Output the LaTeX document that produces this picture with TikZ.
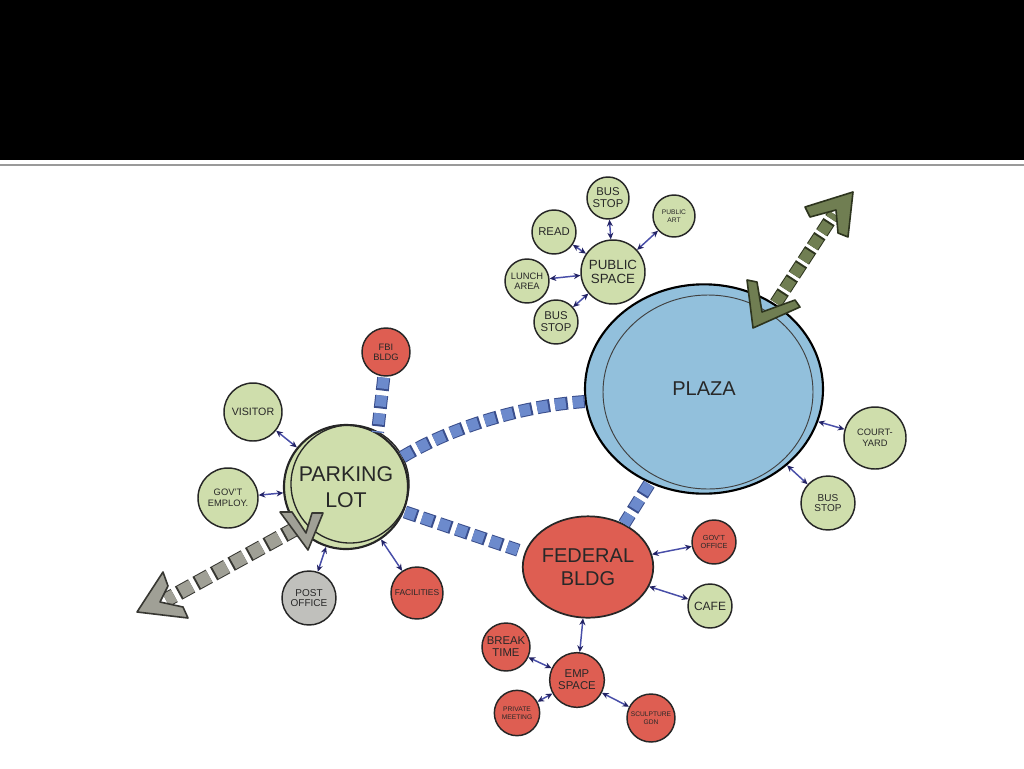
\documentclass[tikz,border=0pt]{standalone}
\usepackage{fontspec}
\setmainfont{Liberation Sans}
\usetikzlibrary{arrows.meta,shapes.geometric}
\definecolor{bgreen}{RGB}{207,222,172}
\definecolor{bred}{RGB}{222,94,82}
\definecolor{bgray}{RGB}{192,192,188}
\definecolor{pblue}{RGB}{146,192,220}
\definecolor{lnk}{RGB}{72,78,168}
\definecolor{tipc}{RGB}{35,35,100}
\definecolor{sqfill}{RGB}{108,138,204}
\definecolor{sqedge}{RGB}{58,78,140}
\definecolor{gfill}{RGB}{160,160,150}
\definecolor{gedge}{RGB}{55,55,50}
\definecolor{ofill}{RGB}{112,126,82}
\definecolor{oedge}{RGB}{45,52,30}
\definecolor{txt}{RGB}{40,40,40}
\newcommand\fsz[2]{\fontsize{#1}{#2}\selectfont}
\begin{document}
\begin{tikzpicture}[x=0.75pt,y=-0.75pt,
  bub/.style={circle,draw=black!85,line width=1.1pt,inner sep=0pt,align=center,text=txt},
  gb/.style={bub,fill=bgreen},
  rb/.style={bub,fill=bred},
  conn/.style={draw=lnk,line width=1.1pt,arrows={Stealth[length=5pt,width=4.5pt,color=tipc]-Stealth[length=5pt,width=4.5pt,color=tipc]}},
  sqlink/.style={preaction={draw=sqedge,line width=9.75pt,dash pattern=on 9.75pt off 3.75pt},draw=sqfill,line width=8.25pt,dash pattern=on 8.25pt off 5.25pt,dash phase=12.75pt},
  graysq/.style={preaction={draw=gedge,line width=11.25pt,dash pattern=on 11.25pt off 3.75pt},draw=gfill,line width=9.75pt,dash pattern=on 9.75pt off 5.25pt,dash phase=14.25pt},
  olsq/.style={preaction={draw=oedge,line width=10pt,dash pattern=on 10pt off 2.6pt},draw=ofill,line width=8.5pt,dash pattern=on 8.5pt off 4.1pt,dash phase=11.85pt},
  chev/.style={line width=1.2pt,line join=round}
]
\useasboundingbox (0,0) rectangle (1024,768);
\fill[white] (0,0) rectangle (1024,768);
\fill[black] (0,0) rectangle (1024,160);
\draw[black!40,line width=1.5pt] (0,165) -- (1024,165);

% public space cluster
\node[gb,minimum size=48pt,font=\fsz{10}{10.5}] (pubsp) at (613,272) {PUBLIC\\SPACE};
\node[gb,minimum size=31.5pt,font=\fsz{8.5}{9}] (bus1) at (608,198) {BUS\\STOP};
\node[gb,minimum size=31.5pt,font=\fsz{5}{5.5}] (art) at (674,216) {PUBLIC\\ART};
\node[gb,minimum size=33pt,font=\fsz{8.5}{9}] (read) at (554,232) {READ};
\node[gb,minimum size=33pt,font=\fsz{7}{7.5}] (lunch) at (527,281) {LUNCH\\AREA};
\node[gb,minimum size=33pt,font=\fsz{8.5}{9}] (bus2) at (556,322) {BUS\\STOP};

% plaza
\node[ellipse,draw=black,line width=1.6pt,fill=pblue,minimum width=178.5pt,minimum height=157pt,inner sep=0pt,font=\fsz{15}{15},text=txt] (plaza) at (704,389) {PLAZA};
\draw[black!75,line width=0.7pt] (708,392) ellipse [x radius=105, y radius=97];
\node[gb,minimum size=46.5pt,font=\fsz{7}{8}] (court) at (875,438) {COURT-\\YARD};
\node[gb,minimum size=40.5pt,font=\fsz{7.5}{8}] (bus3) at (828,503) {BUS\\STOP};

% parking cluster
\node[gb,minimum size=93pt,line width=1.6pt,font=\fsz{16}{19}] (park) at (346,487) {PARKING\\LOT};
\draw[black!85,line width=1pt] (350,484) circle [radius=59];
\node[rb,minimum size=36pt,font=\fsz{7}{7.5}] (fbi) at (386,352) {FBI\\BLDG};
\node[gb,minimum size=43.5pt,font=\fsz{8}{8}] (visitor) at (253,412) {VISITOR};
\node[gb,minimum size=45pt,font=\fsz{7}{8}] (govemp) at (228,498) {GOV'T\\EMPLOY.};
\node[bub,fill=bgray,minimum size=40.5pt,font=\fsz{7.5}{8}] (post) at (309,598) {POST\\OFFICE};
\node[rb,minimum size=39pt,font=\fsz{6.3}{7}] (facil) at (417,593) {FACILITIES};

% federal cluster
\node[ellipse,draw=black!85,line width=1.3pt,fill=bred,minimum width=84pt,minimum height=76pt,inner sep=0pt,align=center,text=txt,font=\fsz{15}{17}] (fed) at (588,567) {FEDERAL\\BLDG};
\node[rb,minimum size=33pt,font=\fsz{5.5}{6}] (govoff) at (714,542) {GOV'T\\OFFICE};
\node[gb,minimum size=33pt,font=\fsz{9}{9}] (cafe) at (710,606) {CAFE};
\node[rb,minimum size=41pt,font=\fsz{8.5}{9}] (emp) at (577,680) {EMP\\SPACE};
\node[rb,minimum size=36pt,font=\fsz{8.5}{9}] (brk) at (506,647) {BREAK\\TIME};
\node[rb,minimum size=34pt,font=\fsz{5}{6}] (priv) at (517,713) {PRIVATE\\MEETING};
\node[rb,minimum size=36pt,font=\fsz{5}{6}] (sculp) at (651,718) {SCULPTURE\\GDN};

% square-dash links
\draw[sqlink] (fbi.265) -- (park.60);
\draw[sqlink] (park.28) .. controls (450,428) and (520,406) .. (plaza.186);
\draw[sqlink,shorten >=5pt] (park.337) -- (fed.167);
\draw[sqlink] (plaza.240) -- (fed.50);

% thin connectors
\draw[conn] (pubsp) -- (bus1);
\draw[conn] (pubsp) -- (art);
\draw[conn] (pubsp) -- (read);
\draw[conn] (pubsp) -- (lunch);
\draw[conn] (pubsp) -- (bus2);
\draw[conn] (plaza) -- (court);
\draw[conn] (plaza) -- (bus3);
\draw[conn] (park) -- (visitor);
\draw[conn] (park) -- (govemp);
\draw[conn] (park) -- (post);
\draw[conn] (park) -- (facil);
\draw[conn] (fed) -- (govoff);
\draw[conn] (fed) -- (cafe);
\draw[conn] (fed) -- (emp);
\draw[conn] (emp) -- (brk);
\draw[conn] (emp) -- (priv);
\draw[conn] (emp) -- (sculp);

% big lower-left arrow
\coordinate (llend) at (166,600);
\draw[graysq] (park.220) -- (llend);
\filldraw[chev,fill=gfill,draw=gedge] (163,572) -- (137,612) -- (188,618) -- (183,607) -- (160,602) -- (168,586) -- cycle;
\filldraw[chev,fill=gfill,draw=gedge] (308,550) -- (280,512) -- (292,512) -- (306,533) -- (312,513) -- (323,513) -- cycle;

% big upper-right arrow
\coordinate (urend) at (834,214);
\draw[olsq] (plaza.50) -- (urend);
\filldraw[chev,fill=ofill,draw=oedge] (853,192) -- (805,207) -- (810,217) -- (836,210) -- (838,233) -- (848,237) -- cycle;
\filldraw[chev,fill=ofill,draw=oedge] (753,328) -- (747,280) -- (757,282) -- (762,312) -- (795,300) -- (800,307) -- cycle;
\end{tikzpicture}
\end{document}
